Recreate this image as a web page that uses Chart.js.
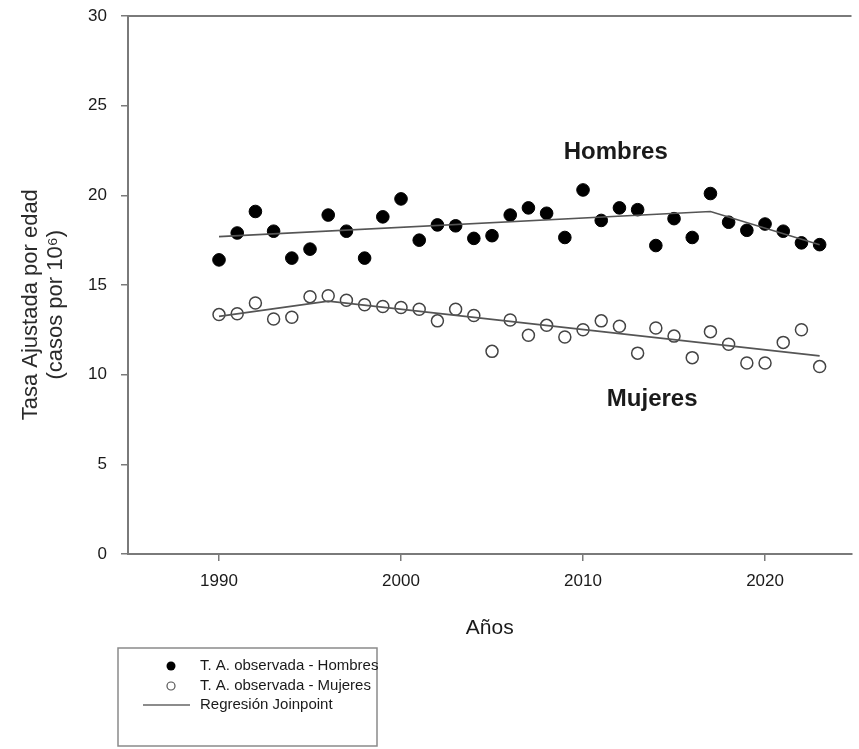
<!DOCTYPE html>
<html><head><meta charset="utf-8">
<script src="https://cdn.jsdelivr.net/npm/chart.js@4.4.1/dist/chart.umd.min.js"></script>
<style>html,body{margin:0;padding:0;background:#fff}#wrap{width:859px;height:749px;position:relative}</style>
</head><body><div id="wrap"><canvas id="c" width="859" height="749"></canvas></div>
<script>
const years = [1990,1991,1992,1993,1994,1995,1996,1997,1998,1999,2000,2001,2002,2003,2004,2005,2006,2007,2008,2009,2010,2011,2012,2013,2014,2015,2016,2017,2018,2019,2020,2021,2022,2023];
const hombres = [16.4,17.9,19.1,18.0,16.5,17.0,18.9,18.0,16.5,18.8,19.8,17.5,18.35,18.3,17.6,17.75,18.9,19.3,19.0,17.65,20.3,18.6,19.3,19.2,17.2,18.7,17.65,20.1,18.5,18.05,18.4,18.0,17.35,17.25];
const mujeres = [13.35,13.4,14.0,13.1,13.2,14.35,14.4,14.15,13.9,13.8,13.75,13.65,13.0,13.65,13.3,11.3,13.05,12.2,12.75,12.1,12.5,13.0,12.7,11.2,12.6,12.15,10.95,12.4,11.7,10.65,10.65,11.8,12.5,10.45];
const hombresRegYears = [1990, 2017, 2023];
const hombresReg = [17.7, 19.1, 17.25];
const mujeresRegYears = [1990, 1996, 2023];
const mujeresReg = [13.25, 14.1, 11.05];
const xTicks = [1990, 2000, 2010, 2020];
const yTicks = [0, 5, 10, 15, 20, 25, 30];
const legendLabels = ['T. A. observada - Hombres', 'T. A. observada - Mujeres', 'Regresión Joinpoint'];
const groupLabels = ['Hombres', 'Mujeres'];
const xTitle = 'Años';
const yTitle = ['Tasa Ajustada por edad', '(casos por 10⁶)'];

const pts = (xs, ys) => xs.map((x, i) => ({x, y: ys[i]}));
const FONT = "'Liberation Sans', Arial, sans-serif";
const AXIS = '#7a7a7a';
const TXT = '#1a1a1a';

const extras = {
  id: 'extras',
  afterDraw(chart) {
    const {ctx, chartArea: a, scales: {x, y}} = chart;
    ctx.save();
    // top frame line
    ctx.strokeStyle = AXIS; ctx.lineWidth = 2;
    ctx.beginPath(); ctx.moveTo(a.left, a.top); ctx.lineTo(a.right, a.top); ctx.stroke();
    // y-axis title (two lines, rotated)
    ctx.save();
    ctx.fillStyle = '#2a2a2a'; ctx.font = "22px " + FONT;
    ctx.textAlign = 'center'; ctx.textBaseline = 'middle';
    const ty = y.getPixelForValue(13.9);
    ctx.translate(31, ty); ctx.rotate(-Math.PI / 2);
    ctx.fillText(yTitle[0], 0, 0);
    ctx.fillText(yTitle[1], 0, 25);
    ctx.restore();
    // group labels
    ctx.fillStyle = TXT; ctx.font = "bold 24px " + FONT;
    ctx.textAlign = 'center'; ctx.textBaseline = 'middle';
    ctx.fillText(groupLabels[0], x.getPixelForValue(2011.8), y.getPixelForValue(22.4));
    ctx.fillText(groupLabels[1], x.getPixelForValue(2013.8), y.getPixelForValue(8.6));
    // legend box
    const bx = 118, by = 648, bw = 259, bh = 98;
    ctx.strokeStyle = '#8a8a8a'; ctx.lineWidth = 1.5;
    ctx.strokeRect(bx, by, bw, bh);
    const rows = [666, 686, 705];
    const mx = 171;
    ctx.fillStyle = '#000';
    ctx.beginPath(); ctx.arc(mx, rows[0], 4.5, 0, Math.PI * 2); ctx.fill();
    ctx.strokeStyle = '#555'; ctx.lineWidth = 1.2; ctx.fillStyle = '#fff';
    ctx.beginPath(); ctx.arc(mx, rows[1], 4, 0, Math.PI * 2); ctx.fill(); ctx.stroke();
    ctx.strokeStyle = '#666'; ctx.lineWidth = 1.5;
    ctx.beginPath(); ctx.moveTo(143, rows[2]); ctx.lineTo(190, rows[2]); ctx.stroke();
    ctx.fillStyle = TXT; ctx.font = "15px " + FONT; ctx.textAlign = 'left';
    legendLabels.forEach((t, i) => ctx.fillText(t, 200, rows[i]));
    ctx.restore();
  }
};

new Chart(document.getElementById('c'), {
  type: 'scatter',
  data: {
    datasets: [
      {label: 'RegH', data: pts(hombresRegYears, hombresReg), showLine: true, pointRadius: 0, borderColor: '#555', borderWidth: 1.6, fill: false},
      {label: 'RegM', data: pts(mujeresRegYears, mujeresReg), showLine: true, pointRadius: 0, borderColor: '#555', borderWidth: 1.6, fill: false},
      {label: legendLabels[0], data: pts(years, hombres), pointRadius: 6.3, pointBackgroundColor: '#000', pointBorderColor: '#000', pointBorderWidth: 1},
      {label: legendLabels[1], data: pts(years, mujeres), pointRadius: 6, pointBackgroundColor: '#fff', pointBorderColor: '#444', pointBorderWidth: 1.5}
    ]
  },
  options: {
    responsive: false, animation: false, devicePixelRatio: 1,
    layout: {padding: {top: 16, left: 0, right: 0, bottom: 108}},
    plugins: {legend: {display: false}, tooltip: {enabled: false}},
    scales: {
      x: {
        type: 'linear', min: 1985, max: 2024.75,
        afterBuildTicks: s => { s.ticks = xTicks.map(v => ({value: v})); },
        afterFit: s => { s.height = 87; s.paddingLeft = 0; s.paddingRight = 0; },
        ticks: {callback: v => String(v), font: {family: FONT, size: 17}, color: TXT, padding: 10, maxRotation: 0},
        grid: {drawOnChartArea: false, drawTicks: true, tickLength: 7, color: AXIS, lineWidth: 1.5},
        border: {color: AXIS, width: 2},
        title: {display: true, text: xTitle, font: {family: FONT, size: 21}, color: TXT, padding: {top: 0, bottom: 0}}
      },
      y: {
        min: 0, max: 30,
        afterBuildTicks: s => { s.ticks = yTicks.map(v => ({value: v})); },
        afterFit: s => { s.width = 128; s.paddingTop = 0; s.paddingBottom = 0; },
        ticks: {font: {family: FONT, size: 17}, color: TXT, padding: 14},
        grid: {drawOnChartArea: false, drawTicks: true, tickLength: 7, color: AXIS, lineWidth: 1.5},
        border: {color: AXIS, width: 2},
        title: {display: false}
      }
    }
  },
  plugins: [extras]
});
</script></body></html>
